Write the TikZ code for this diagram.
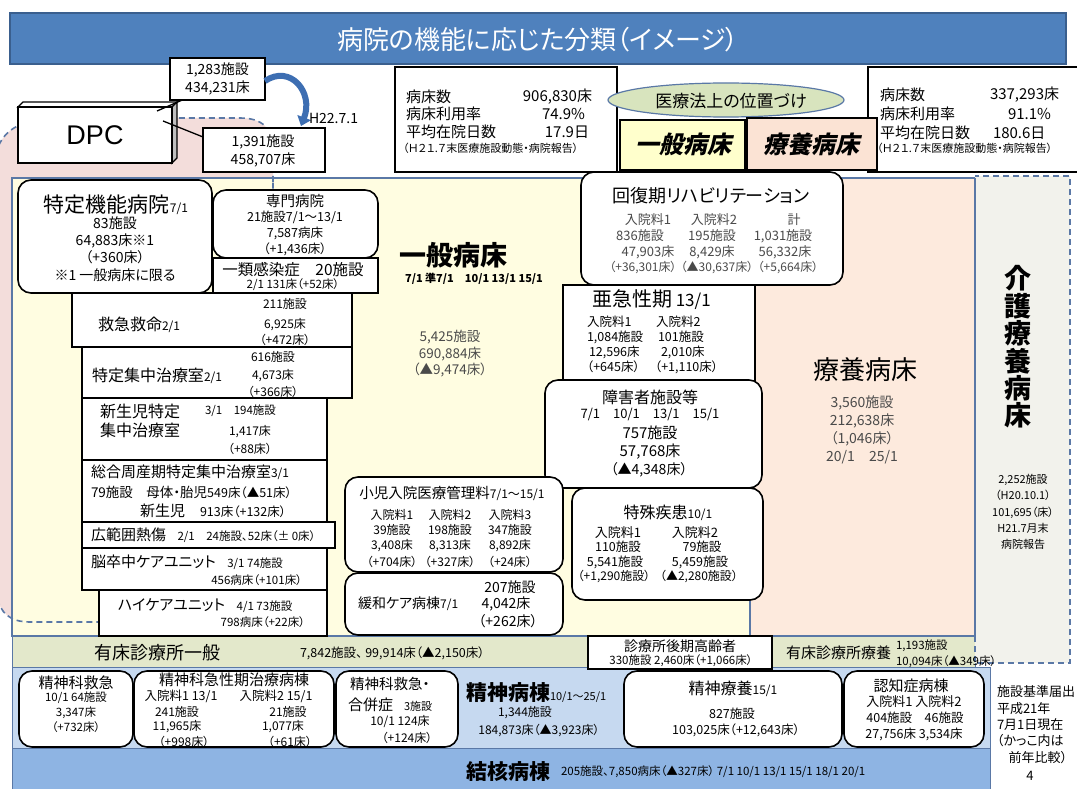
\documentclass[tikz,border=0pt]{standalone}
\usepackage{fontspec}
\setmainfont{Noto Sans CJK JP}[RawFeature=+palt]
\newfontfamily\jpsl{Noto Sans CJK JP}[FakeSlant=0.22,RawFeature=+palt]
\newfontfamily\lsans{Liberation Sans}
\usetikzlibrary{shapes.geometric,arrows.meta,calc}
\definecolor{titleblue}{HTML}{4F81BD}
\definecolor{titleedge}{HTML}{3A5F8E}
\definecolor{yel}{HTML}{FFFDE1}
\definecolor{pnk}{HTML}{FDEADD}
\definecolor{kaigocol}{HTML}{F2F2EC}
\definecolor{grn}{HTML}{E3E8CB}
\definecolor{lblue}{HTML}{C6D9F0}
\definecolor{mblue}{HTML}{8EB4E3}
\definecolor{frameb}{HTML}{5A78A6}
\definecolor{blobcol}{HTML}{F3DDDB}
\definecolor{ellcol}{HTML}{D8E4BE}
\definecolor{hyel}{HTML}{FFFFCC}
\definecolor{hpnk}{HTML}{FBE3D4}
\definecolor{arrowblue}{HTML}{3D6EB2}
\definecolor{txtgray}{HTML}{4A4A4A}
\newcommand\fz[2]{\fontsize{#1pt}{#2pt}\selectfont}
\newcommand\bx[6]{\node[#1,minimum width={#4-#2},minimum height={#5-#3}] (#6) at ({(#2+#4)/2},{(#3+#5)/2}) {};}
\newcommand\tx[5][]{\node[#1] (#2) at (#3) {\fz{#4}{#4}#5};}
\begin{document}
\begin{tikzpicture}[x=1pt,y=-1pt,
  every node/.style={inner sep=0pt,outer sep=0pt},
  box/.style={draw=black,line width=1.6pt,fill=white},
  rbox/.style={box,rounded corners=13pt},
  region/.style={draw=frameb,line width=1.4pt},
  row/.style={draw=frameb,line width=1pt},
  cline/.style={draw=black,line width=1.3pt},
  dashb/.style={draw=frameb,line width=1.6pt,dash pattern=on 6pt off 4pt},
  gtext/.style={text=txtgray}]
\useasboundingbox (0,0) rectangle (1077,789);
\fill[white] (0,0) rectangle (1077,789);
% pink blob (fill)
\fill[blobcol] (273,182) -- (273,150) .. controls (273,128) and (262,118) .. (240,118) -- (60,118) .. controls (25,118) and (4,128) .. (-3,150) -- (-3,596) .. controls (0,613) and (10,622) .. (30,622) -- (273,622) -- cycle;
% title
\bx{draw=titleedge,line width=1.2pt,fill=titleblue}{10}{13}{1066}{64}{titlebar}
\tx[text=white]{titletext}{538,40}{26}{病院の機能に応じた分類（イメージ）}
% regions
\bx{region,fill=yel}{12}{178}{750}{636}{ippan}
\bx{region,fill=pnk}{750}{178}{975}{636}{ryoyo}
\bx{row,fill=grn}{12}{636}{588}{667}{yushoA}
\bx{row,fill=grn}{772}{636}{975}{667}{yushoB}
\bx{fill=kaigocol}{975}{176}{1070}{663}{kaigo}
\bx{row,fill=lblue}{12}{667}{990}{748}{seishin}
\bx{row,fill=mblue}{12}{748}{990}{795}{kekkaku}
\draw[region] (975,178) -- (975,636);
% blob outline
\draw[dashb] (273,182) -- (273,150) .. controls (273,128) and (262,118) .. (240,118) -- (60,118) .. controls (25,118) and (4,128) .. (-3,150) -- (-3,596) .. controls (0,613) and (10,622) .. (30,622) -- (273,622) -- cycle;
% kaigo dashed outline
\draw[dashb] (975,636) -- (975,663) -- (1070,663) -- (1070,176) -- (975,176);
% header info boxes
\bx{box}{395}{67}{617}{172}{infoL}
\tx[anchor=west]{iL1}{406,97}{15}{病床数}
\tx[anchor=east]{iL1v}{592,97}{15}{906,830床}
\tx[anchor=west]{iL2}{406,114}{15}{病床利用率}
\tx[anchor=east]{iL2v}{585,114}{15}{74.9\%}
\tx[anchor=west]{iL3}{406,132}{15}{平均在院日数}
\tx[anchor=east]{iL3v}{589,132}{15}{17.9日}
\tx[anchor=west]{iL4}{403,148}{11}{（Ｈ２１.７末医療施設動態・病院報告）}
\bx{box}{868}{67}{1090}{172}{infoR}
\tx[anchor=west]{iR1}{880,95}{15}{病床数}
\tx[anchor=west]{iR1v}{990,95}{15}{337,293床}
\tx[anchor=west]{iR2}{880,114}{15}{病床利用率}
\tx[anchor=west]{iR2v}{1008,114}{15}{91.1\%}
\tx[anchor=west]{iR3}{880,133}{15}{平均在院日数}
\tx[anchor=west]{iR3v}{993,133}{15}{180.6日}
\tx[anchor=west]{iR4}{877,148}{11}{（Ｈ２１.７末医療施設動態・病院報告）}
\node[ellipse,draw=frameb,line width=1.2pt,fill=ellcol,minimum width=236,minimum height=34] (ell) at (726,100) {};
\tx{ellt}{731,101}{17}{医療法上の位置づけ}
\bx{box,fill=hyel}{620}{120}{745}{170}{hG}
\tx{hGt}{683,144}{24}{\jpsl\bfseries 一般病床}
\bx{box,fill=hpnk}{747}{118}{877}{170}{hR}
\tx{hRt}{811,144}{24}{\jpsl\bfseries 療養病床}
% DPC
\filldraw[fill=white,draw=black,line width=1.4pt] (18,107) -- (23,102) -- (177,102) -- (172,107) -- cycle;
\filldraw[fill=black!25,draw=black,line width=1.4pt] (172,107) -- (177,102) -- (177,158) -- (172,163) -- cycle;
\bx{box}{18}{107}{172}{163}{dpc}
\node (dpcT) at (dpc) {\lsans\fz{27}{30}DPC};
\bx{box}{170}{58}{265}{100}{cA}
\node[align=center,font=\fz{14}{18}] (cAt) at (cA) {1,283施設\\434,231床};
\bx{box}{203}{128}{325}{172}{cB}
\node[align=center,font=\fz{14}{18}] (cBt) at (263,151) {1,391施設\\458,707床};
\coordinate (pA) at (157,111);
\coordinate (pB) at (163,121);
\draw[cline] ($(cA.south west)!0.13!(cA.south east)$) -- (pA);
\draw[cline] ($(cB.north west)+(0,9)$) -- (pB);
\coordinate (arrEnd) at (301,126);
\draw[line width=6pt,arrowblue,-{Triangle[length=9pt,width=14pt]}] ($(cA.east)+(0,2)$) .. controls (290,64) and (314,92) .. (arrEnd);
\tx[anchor=west]{h22}{309,118}{14}{H22.7.1}
% left column
\bx{rbox}{18}{180}{212}{293}{tokutei}
\tx{tokT}{116,205}{21}{特定機能病院{\fz{12}{14}7/1}}
\node[align=center,font=\fz{14}{17.3}] (tokD) at (115,249) {83施設\\64,883床※1\\（+360床）\\※1 一般病床に限る};
\bx{rbox}{213}{190}{378}{258}{senmon}
\tx{senT1}{295,201}{14.5}{専門病院}
\tx{senT2}{295,217}{12.5}{21施設7/1〜13/1}
\tx{senT3}{295,233}{12.5}{7,587病床}
\tx{senT4}{295,249}{12.5}{（+1,436床）}
\bx{box}{213}{258}{378}{293}{ichirui}
\tx{ichT1}{293,270}{15.5}{一類感染症　20施設}
\tx{ichT2}{293,285}{11.5}{2/1 131床（+52床）}
\bx{box}{72}{293}{352}{347}{kyukyu}
\tx[anchor=west]{qqT}{98,325}{16}{救急救命{\fz{12}{14}2/1}}
\tx{qq1}{285,304}{12}{211施設}
\tx{qq2}{285,325}{12}{6,925床}
\tx{qq3}{285,340}{12}{（+472床）}
\bx{box}{82}{347}{352}{398}{icu}
\tx[anchor=west]{icuT}{92,376}{16}{特定集中治療室{\fz{12}{14}2/1}}
\tx{icu1}{273,357}{12}{616施設}
\tx{icu2}{273,376}{12}{4,673床}
\tx{icu3}{273,392}{12}{（+366床）}
\bx{box}{82}{398}{327}{460}{nicu}
\tx[anchor=west]{nicuT1}{100,411}{16}{新生児特定}
\tx[anchor=west]{nicuT2}{100,430}{16}{集中治療室}
\tx[anchor=west]{nicu0}{205,411}{11.5}{3/1　194施設}
\tx{nicu2}{250,432}{12}{1,417床}
\tx{nicu3}{250,449}{12}{（+88床）}
\bx{box}{82}{460}{327}{522}{mficu}
\tx[anchor=west]{mfT}{91,472}{15}{総合周産期特定集中治療室{\fz{12}{14}3/1}}
\tx[anchor=west]{mf2}{91,492}{13.5}{79施設　母体・胎児{\fz{12.5}{14}549床（▲51床）}}
\tx[anchor=west]{mf3}{140,511}{15}{新生児　{\fz{12.5}{14}913床（+132床）}}
\bx{box}{82}{522}{335}{548}{burn}
\tx[anchor=west]{burnT}{91,535}{15}{広範囲熱傷{\fz{11.5}{14}　2/1　24施設、52床（± 0床）}}
\bx{box}{82}{548}{327}{590}{scu}
\tx[anchor=west]{scuT}{91,562}{15}{脳卒中ケアユニット{\fz{11.5}{14}　3/1 74施設}}
\tx[anchor=east]{scu2}{302,580}{11.5}{456病床（+101床）}
\bx{box}{99}{590}{327}{636}{hcu}
\tx[anchor=west]{hcuT}{118,606}{15}{ハイケアユニット{\fz{11.5}{14}　4/1 73施設}}
\tx[anchor=east]{hcu2}{305,622}{11.5}{798病床（+22床）}
% general ward label
\tx{ipT}{453,255}{27}{\bfseries 一般病床}
\tx{ipT2}{474,279}{11}{\bfseries 7/1 準7/1　10/1 13/1 15/1}
\node[align=center,gtext,font=\fz{13.5}{16.5}] (ipD) at (450,354) {5,425施設\\690,884床\\（▲9,474床）};
% kaifuku
\bx{rbox}{581}{172}{843}{285}{kaifuku}
\tx{kfT}{711,196}{18}{回復期リハビリテーション}
\tx[gtext]{kf11}{648,220}{13}{入院料1}
\tx[gtext]{kf12}{714,220}{13}{入院料2}
\tx[gtext]{kf13}{794,220}{13}{計}
\tx[gtext]{kf21}{640,236}{13}{836施設}
\tx[gtext]{kf22}{712,236}{13}{195施設}
\tx[gtext]{kf23}{783,236}{13}{1,031施設}
\tx[gtext]{kf31}{648,252}{13}{47,903床}
\tx[gtext]{kf32}{712,252}{13}{8,429床}
\tx[gtext]{kf33}{785,252}{13}{56,332床}
\tx[gtext]{kf41}{643,268}{12}{（+36,301床）}
\tx[gtext]{kf42}{717,268}{12}{（▲30,637床）}
\tx[gtext]{kf43}{788,268}{12}{（+5,664床）}
% akyu
\bx{box}{563}{285}{755}{382}{akyu}
\tx[anchor=west]{akT}{592,300}{20}{亜急性期{\fz{17}{19} 13/1}}
\tx[anchor=west]{ak11}{587,322}{12.5}{入院料1}
\tx[anchor=west]{ak12}{656,322}{12.5}{入院料2}
\tx[anchor=west]{ak21}{587,337}{12.5}{1,084施設}
\tx[anchor=west]{ak22}{658,337}{12.5}{101施設}
\tx[anchor=west]{ak31}{589,352}{12.5}{12,596床}
\tx[anchor=west]{ak32}{661,352}{12.5}{2,010床}
\tx[anchor=west]{ak41}{587,367}{12.5}{（+645床）}
\tx[anchor=west]{ak42}{655,367}{12.5}{（+1,110床）}
% shogai
\bx{rbox}{545}{380}{762}{488}{shogai}
\tx{shT}{650,397}{16}{障害者施設等}
\tx{sh2}{650,415}{13}{7/1　10/1　13/1　15/1}
\tx{sh3}{650,433}{15}{757施設}
\tx{sh4}{650,452}{15}{57,768床}
\tx{sh5}{649,470}{14}{（▲4,348床）}
% tokushu
\bx{rbox}{572}{488}{763}{600}{tokushu}
\tx{tkT}{668,513}{16}{特殊疾患{\fz{12}{14}10/1}}
\tx{tk11}{618,533}{13}{入院料1}
\tx{tk12}{695,533}{13}{入院料2}
\tx{tk21}{618,547}{12.5}{110施設}
\tx{tk22}{702,547}{12.5}{79施設}
\tx{tk31}{615,562}{12.5}{5,541施設}
\tx{tk32}{700,562}{12.5}{5,459施設}
\tx{tk41}{614,577}{12}{（+1,290施設）}
\tx{tk42}{699,577}{12}{（▲2,280施設）}
% shoni
\bx{rbox}{345}{477}{563}{572}{shoni}
\tx{snT}{452,493}{14.5}{小児入院医療管理料{\fz{12}{14}7/1〜15/1}}
\tx{sn11}{392,515}{12}{入院料1}
\tx{sn12}{450,515}{12}{入院料2}
\tx{sn13}{510,515}{12}{入院料3}
\tx{sn21}{392,530}{12}{39施設}
\tx{sn22}{450,530}{12}{198施設}
\tx{sn23}{510,530}{12}{347施設}
\tx{sn31}{392,546}{12}{3,408床}
\tx{sn32}{450,546}{12}{8,313床}
\tx{sn33}{510,546}{12}{8,892床}
\tx{sn41}{392,562}{12}{（+704床）}
\tx{sn42}{450,562}{12}{（+327床）}
\tx{sn43}{510,562}{12}{（+24床）}
% kanwa
\bx{rbox}{345}{573}{563}{635}{kanwa}
\tx[anchor=west]{kwT}{358,604}{14}{緩和ケア病棟{\fz{12}{14}7/1}}
\tx{kw1}{510,587}{14}{207施設}
\tx{kw2}{506,604}{14}{4,042床}
\tx{kw3}{508,621}{14}{（+262床）}
% ryoyo
\tx{ryT}{865,370}{26}{療養病床}
\node[align=center,gtext,font=\fz{14}{18}] (ryD) at (862,430) {3,560施設\\212,638床\\（1,046床）\\20/1　25/1};
% kaigo
\node[align=center,font=\fz{27}{27.4}\bfseries] (kgT) at (1018,347) {介\\護\\療\\養\\病\\床};
\node[align=center,font=\fz{11}{16.2}] (kgD) at (1023,512) {2,252施設\\（H20.10.1）\\101,695（床）\\H21.7月末\\病院報告};
% yusho rows
\tx{yaT}{157,653}{18}{有床診療所一般}
\tx[anchor=west]{yaD}{300,653}{12.5}{7,842施設、 99,914床（▲2,150床）}
\bx{box,line width=1.3pt}{588}{636}{772}{669}{kokorei}
\tx{koT1}{680,646}{14}{診療所後期高齢者}
\tx{koT2}{681,661}{11.5}{330施設 2,460床（+1,066床）}
\tx[anchor=west]{ybT}{786,653}{15}{有床診療所療養}
\tx[anchor=west]{yb1}{896,646}{11.5}{1,193施設}
\tx[anchor=west]{yb2}{896,662}{11.5}{10,094床（▲349床）}
% psychiatric row
\bx{rbox}{19}{671}{133}{747}{ps1}
\tx{ps1a}{76,683}{15}{精神科救急}
\node[align=center,font=\fz{11.5}{15}] (ps1b) at (76,712) {10/1 64施設\\3,347床\\（+732床）};
\bx{rbox}{134}{671}{334}{747}{ps2}
\tx{ps2a}{234,680}{15}{精神科急性期治療病棟}
\tx{ps2b}{181,696}{12.5}{入院料1 13/1}
\tx{ps2c}{276,696}{12.5}{入院料2 15/1}
\tx{ps2d}{177,712}{12}{241施設}
\tx{ps2e}{288,712}{12}{21施設}
\tx{ps2f}{177,727}{12}{11,965床}
\tx{ps2g}{283,727}{12}{1,077床}
\tx{ps2h}{184,742}{12}{（+998床）}
\tx{ps2i}{290,742}{12}{（+61床）}
\bx{rbox}{336}{671}{458}{747}{ps3}
\tx[anchor=west]{ps3a}{350,684}{14.5}{精神科救急・}
\tx[anchor=west]{ps3b}{348,705}{15}{合併症{\fz{11}{13}　3施設}}
\tx{ps3c}{400,722}{12}{10/1 124床}
\tx{ps3d}{407,738}{12}{（+124床）}
\tx[anchor=west]{ps4a}{466,693}{21}{\bfseries 精神病棟{\mdseries\fz{11}{13}10/1〜25/1}}
\tx{ps4b}{525,713}{12}{1,344施設}
\tx{ps4c}{539,730}{12}{184,873床（▲3,923床）}
\bx{rbox}{624}{671}{842}{747}{ps5}
\tx{ps5a}{733,689}{16}{精神療養{\fz{12}{14}15/1}}
\tx{ps5b}{732,714}{12.5}{827施設}
\tx{ps5c}{736,730}{12.5}{103,025床（+12,643床）}
\bx{rbox}{844}{671}{984}{747}{ps6}
\tx{ps6a}{911,686}{15}{認知症病棟}
\tx{ps6b}{914,702}{13}{入院料1 入院料2}
\tx{ps6c}{915,718}{12.5}{404施設　46施設}
\tx{ps6d}{914,734}{12.5}{27,756床 3,534床}
% tuberculosis
\tx[anchor=west]{tbT}{466,772}{21}{\bfseries 結核病棟}
\tx[anchor=west]{tbD}{561,772}{11.5}{205施設、7,850病床（▲327床） 7/1 10/1 13/1 15/1 18/1 20/1}
% note
\node[anchor=north west,align=left,font=\fz{13}{16.3}] (note) at (997,686) {施設基準届出\\平成21年\\7月1日現在\\（かっこ内は\\\hspace*{0.9em}前年比較）};
\tx{pgnum}{1030,776}{13}{4}
\end{tikzpicture}
\end{document}
